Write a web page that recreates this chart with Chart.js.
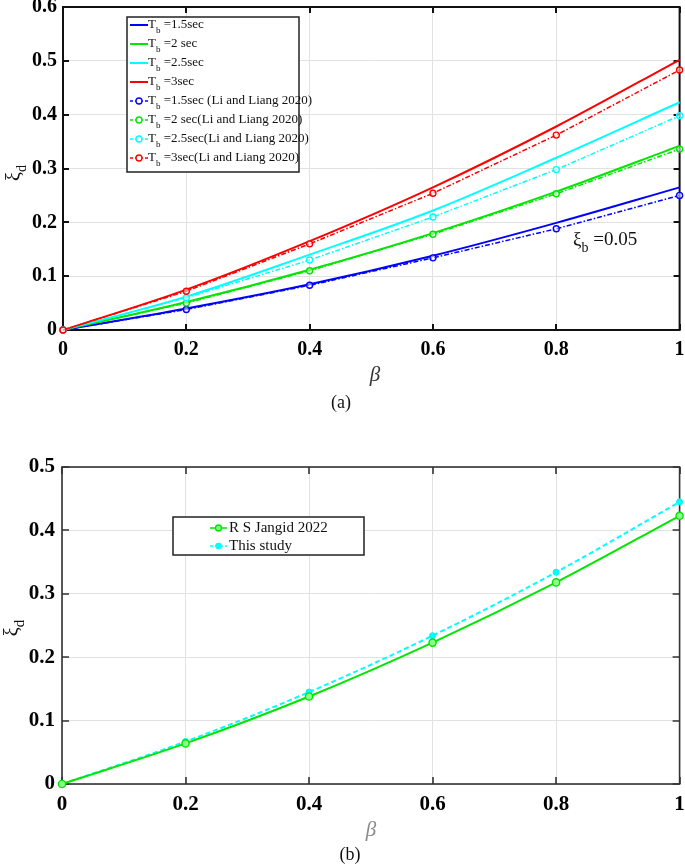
<!DOCTYPE html>
<html>
<head>
<meta charset="utf-8">
<script src="https://cdn.jsdelivr.net/npm/chart.js@4.4.0/dist/chart.umd.min.js"></script>
<style>
body{margin:0;background:#fff;width:685px;height:865px;position:relative;overflow:hidden;font-family:"Liberation Serif",serif}
canvas{position:absolute;left:0}
#ca{top:0}
#cb{top:440px}
.cap{position:absolute;font-size:18px;color:#111;transform:translate(-50%,-50%)}
</style>
</head>
<body>
<canvas id="ca" width="685" height="395"></canvas>
<canvas id="cb" width="685" height="425"></canvas>
<div class="cap" style="left:341px;top:402px">(a)</div>
<div class="cap" style="left:350px;top:854px">(b)</div>
<script>
// beta values (x axis), shared by both panels
const betaVals=[0,0.2,0.4,0.6,0.8,1];

// panel (a) - solid lines, this study
const tbLabels=['=1.5sec','=2 sec','=2.5sec','=3sec'];
const solid15=[0,0.040,0.085,0.138,0.199,0.265];
const solid2 =[0,0.052,0.112,0.180,0.257,0.342];
const solid25=[0,0.062,0.140,0.222,0.320,0.423];
const solid3 =[0,0.075,0.165,0.265,0.378,0.502];
// panel (a) - Li and Liang 2020
const liLabels=['=1.5sec (Li and Liang 2020)','=2 sec(Li and Liang 2020)','=2.5sec(Li and Liang 2020)','=3sec(Li and Liang 2020)'];
const li15=[0,0.038,0.083,0.134,0.188,0.250];
const li2 =[0,0.050,0.110,0.178,0.253,0.336];
const li25=[0,0.060,0.130,0.210,0.298,0.398];
const li3 =[0,0.072,0.160,0.254,0.362,0.483];

// panel (b)
const bLabels=['R S Jangid 2022','This study'];
const jangid   =[0,0.064,0.138,0.223,0.318,0.423];
const thisStudy=[0,0.067,0.145,0.234,0.334,0.445];

const colA=['#0000ff','#00e600','#00ffff','#ff0000'];
const DASHDOT=[5,2,1.5,2];
const FONT='"Liberation Serif", "Times New Roman", serif';

function pts(arr){return betaVals.map((b,i)=>({x:b,y:arr[i]}));}
function fmt(v){return String(Math.round(v*10)/10);}

// draw a run of text pieces [{t,f,dy}] starting at x
function runWidth(ctx,parts){let w=0;parts.forEach(p=>{ctx.font=p.f;w+=ctx.measureText(p.t).width;});return w;}
function drawRun(ctx,x,y,parts){
  let cx=x;
  parts.forEach(p=>{ctx.font=p.f;ctx.fillText(p.t,cx,y+(p.dy||0));cx+=ctx.measureText(p.t).width;});
  return cx;
}

function framePlugin(id,o){
  return {id:id,
  beforeDatasetsDraw(chart){
    const {ctx,chartArea:a,scales:{x,y}}=chart;
    ctx.save();
    ctx.strokeStyle=o.frameColor;ctx.lineWidth=o.frameWidth;
    ctx.strokeRect(a.left,a.top,a.right-a.left,a.bottom-a.top);
    ctx.beginPath();
    x.ticks.forEach(t=>{const p=Math.round(x.getPixelForValue(t.value));
      ctx.moveTo(p,a.bottom);ctx.lineTo(p,a.bottom-o.tick);
      ctx.moveTo(p,a.top);ctx.lineTo(p,a.top+o.tick);});
    y.ticks.forEach(t=>{const p=Math.round(y.getPixelForValue(t.value));
      ctx.moveTo(a.left,p);ctx.lineTo(a.left+o.tick,p);
      ctx.moveTo(a.right,p);ctx.lineTo(a.right-o.tick,p);});
    ctx.stroke();
    ctx.restore();
  },
  afterDraw(chart){
    const {ctx}=chart;
    ctx.save();
    ctx.textBaseline='middle';
    // y title xi_d
    ctx.fillStyle='#111';
    const yp=[{t:'\u03be',f:o.yt.size+'px '+FONT},{t:'d',f:o.yt.sub+'px '+FONT,dy:7}];
    ctx.translate(o.yt.x,o.yt.y);ctx.rotate(-Math.PI/2);
    drawRun(ctx,-runWidth(ctx,yp)/2,0,yp);
    ctx.setTransform(1,0,0,1,0,0);
    // x title beta
    ctx.fillStyle=o.xt.color;ctx.font='italic '+o.xt.size+'px '+FONT;ctx.textAlign='center';
    ctx.fillText('\u03b2',o.xt.x,o.xt.y);
    ctx.textAlign='left';
    // legend
    const L=o.legend;
    ctx.fillStyle='#fff';ctx.fillRect(L.x,L.y,L.w,L.h);
    ctx.strokeStyle='#222';ctx.lineWidth=1.5;ctx.strokeRect(L.x,L.y,L.w,L.h);
    L.rows.forEach((r,i)=>{
      const cy=L.y0+i*L.dy;
      ctx.strokeStyle=r.color;ctx.lineWidth=r.lw;ctx.setLineDash(r.dash||[]);
      ctx.beginPath();ctx.moveTo(L.lx0,cy);ctx.lineTo(L.lx1,cy);ctx.stroke();
      ctx.setLineDash([]);
      if(r.marker){
        ctx.beginPath();ctx.arc((L.lx0+L.lx1)/2,cy,r.marker,0,Math.PI*2);
        ctx.fillStyle=r.fill;ctx.fill();ctx.lineWidth=1.3;ctx.stroke();
      }
      ctx.fillStyle='#111';
      drawRun(ctx,L.tx,cy,r.parts);
    });
    // note
    if(o.note){ctx.fillStyle='#111';drawRun(ctx,o.note.x,o.note.y,o.note.parts);}
    ctx.restore();
  }};
}

function axisOpts(min,max,step,fs,w,h,pad,isY){
  return {type:'linear',min:min,max:max,
    ticks:{stepSize:step,color:'#000',padding:pad,font:{family:FONT,size:fs,weight:'bold'},
      callback:v=>fmt(v)},
    grid:{color:'#e2e2e2',lineWidth:1,drawTicks:false},
    border:{display:false},
    afterFit(s){
      if(isY){s.width=w;s.paddingTop=0;s.paddingBottom=0;}
      else{s.height=h;s.paddingLeft=0;s.paddingRight=0;}
    }};
}

// ---------- panel (a) ----------
const dsA=[];
[solid15,solid2,solid25,solid3].forEach((d,i)=>{
  dsA.push({data:pts(d),borderColor:colA[i],borderWidth:2,pointRadius:0,
    cubicInterpolationMode:'monotone',clip:false,order:8-i});
});
[li15,li2,li25,li3].forEach((d,i)=>{
  dsA.push({data:pts(d),borderColor:colA[i],borderWidth:1.5,borderDash:DASHDOT,
    pointRadius:3,pointBorderWidth:1.4,pointBorderColor:colA[i],pointBackgroundColor:'rgba(255,255,255,0.5)',
    clip:false,order:4-i});
});

const legA=[];
colA.forEach((c,i)=>legA.push({color:c,lw:2,parts:[{t:'T',f:'13px '+FONT},{t:'b',f:'9px '+FONT,dy:6},{t:' '+tbLabels[i],f:'13px '+FONT}]}));
colA.forEach((c,i)=>legA.push({color:c,lw:1.5,dash:[3,2],marker:3,fill:'#fff',parts:[{t:'T',f:'13px '+FONT},{t:'b',f:'9px '+FONT,dy:6},{t:' '+liLabels[i],f:'13px '+FONT}]}));

new Chart(document.getElementById('ca'),{
  type:'line',
  data:{datasets:dsA},
  options:{responsive:false,animation:false,events:[],
    layout:{padding:{left:0,right:3,top:7,bottom:20}},
    scales:{
      x:axisOpts(0,1,0.2,20,0,45,8,false),
      y:axisOpts(0,0.6,0.1,20,63,0,6,true)
    },
    plugins:{legend:{display:false},tooltip:{enabled:false}}
  },
  plugins:[framePlugin('frameA',{frameColor:'#111',frameWidth:2,tick:6,
    yt:{x:15,y:173,size:20,sub:14},
    xt:{x:375,y:375,color:'#333',size:21},
    legend:{x:127,y:17,w:172,h:155,y0:25,dy:19,lx0:130,lx1:148,tx:148,rows:legA},
    note:{x:573,y:240,parts:[{t:'\u03be',f:'19px '+FONT},{t:'b',f:'14px '+FONT,dy:8},{t:' =0.05',f:'19px '+FONT}]}
  })]
});

// ---------- panel (b) ----------
const legB=[
  {color:'#00e600',lw:1.5,marker:3,fill:'#7dff7d',parts:[{t:bLabels[0],f:'15px '+FONT}]},
  {color:'#00ffff',lw:1.5,dash:[3,2],marker:2.6,fill:'#00ffff',parts:[{t:bLabels[1],f:'15px '+FONT}]}
];

new Chart(document.getElementById('cb'),{
  type:'line',
  data:{datasets:[
    {data:pts(jangid),borderColor:'#00e600',borderWidth:2,cubicInterpolationMode:'monotone',
      pointRadius:3.6,pointBorderWidth:1.4,pointBorderColor:'#00e600',pointBackgroundColor:'#8cff8c',clip:false,order:1},
    {data:pts(thisStudy),borderColor:'#00ffff',borderWidth:2,borderDash:[5,3],cubicInterpolationMode:'monotone',
      pointRadius:3,pointBorderWidth:1,pointBorderColor:'#00f0f0',pointBackgroundColor:'#00ffff',clip:false,order:2}
  ]},
  options:{responsive:false,animation:false,events:[],
    layout:{padding:{left:0,right:4,top:27,bottom:36}},
    scales:{
      x:axisOpts(0,1,0.2,21,0,45,8,false),
      y:axisOpts(0,0.5,0.1,21,62,0,7,true)
    },
    plugins:{legend:{display:false},tooltip:{enabled:false}}
  },
  plugins:[framePlugin('frameB',{frameColor:'#333',frameWidth:1.6,tick:7,
    yt:{x:13,y:188,size:20,sub:15},
    xt:{x:371,y:390,color:'#8a8a8a',size:21},
    legend:{x:173,y:77,w:191,h:38,y0:88,dy:18,lx0:210,lx1:227,tx:229,rows:legB}
  })]
});
</script>
</body>
</html>
